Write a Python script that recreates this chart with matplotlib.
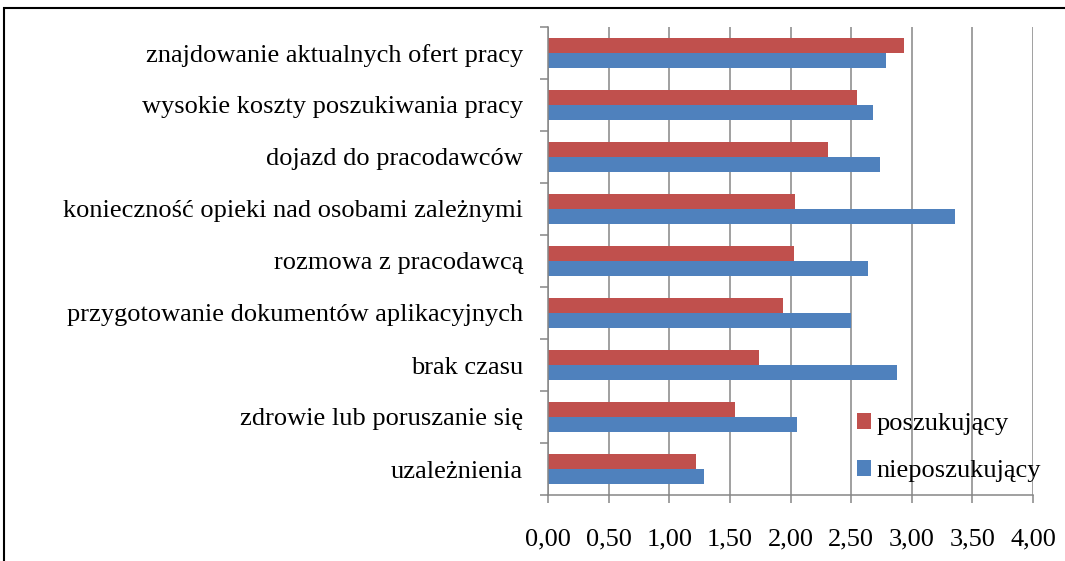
import matplotlib
matplotlib.use("Agg")
import matplotlib.pyplot as plt
from matplotlib.patches import Rectangle
from matplotlib.ticker import FuncFormatter, FixedLocator
import numpy as np

categories = [
    "znajdowanie aktualnych ofert pracy",
    "wysokie koszty poszukiwania pracy",
    "dojazd do pracodawców",
    "konieczność opieki nad osobami zależnymi",
    "rozmowa z pracodawcą",
    "przygotowanie dokumentów aplikacyjnych",
    "brak czasu",
    "zdrowie lub poruszanie się",
    "uzależnienia",
]
poszukujacy = [2.94, 2.55, 2.31, 2.04, 2.03, 1.94, 1.74, 1.54, 1.22]
nieposzukujacy = [2.79, 2.68, 2.74, 3.36, 2.64, 2.50, 2.88, 2.05, 1.29]
series_names = ["poszukujący", "nieposzukujący"]
xticks = [0, 0.5, 1.0, 1.5, 2.0, 2.5, 3.0, 3.5, 4.0]

RED = "#C0504D"
BLUE = "#4F81BD"
GRID = "#868686"
FS = 19

plt.rcParams["font.family"] = ["Liberation Serif", "DejaVu Serif"]

fig = plt.figure(figsize=(10.65, 5.61), dpi=100)
ax = fig.add_axes([548 / 1065, 66 / 561, 485 / 1065, 468 / 561])

n = len(categories)
ypos = np.arange(n)[::-1]  # top category at highest y
h = 0.29
ax.barh(ypos + h / 2, poszukujacy, height=h, color=RED, label=series_names[0], zorder=3)
ax.barh(ypos - h / 2, nieposzukujacy, height=h, color=BLUE, label=series_names[1], zorder=3)

ax.set_xlim(0, 4)
ax.set_ylim(-0.5, n - 0.5)
ax.set_xticks(xticks)
ax.xaxis.set_major_formatter(FuncFormatter(lambda v, p: f"{v:.2f}".replace(".", ",")))
ax.set_yticks(ypos)
ax.set_yticklabels(categories)
ax.yaxis.set_minor_locator(FixedLocator(np.arange(-0.5, n, 1.0)))

ax.tick_params(axis="y", which="major", length=0, pad=18, labelsize=FS)
ax.tick_params(axis="y", which="minor", length=6, width=1.1, color=GRID, direction="out")
ax.tick_params(axis="x", which="major", length=6, width=1.1, color=GRID, direction="out",
               pad=18, labelsize=FS)

ax.grid(axis="x", color=GRID, linewidth=1.1, zorder=0)
ax.set_axisbelow(True)
for s in ["top", "right"]:
    ax.spines[s].set_visible(False)
for s in ["left", "bottom"]:
    ax.spines[s].set_color(GRID)
    ax.spines[s].set_linewidth(1.1)
    ax.spines[s].set_zorder(4)

leg = ax.legend(loc="upper left", bbox_to_anchor=((857 - 548) / 485, (495 - 413) / 468),
                frameon=False, fontsize=FS, borderpad=0, borderaxespad=0,
                handlelength=0.53, handleheight=0.53,
                handletextpad=0.2, labelspacing=0.95)

# outer frame
fig.patches.append(Rectangle((4 / 1065, -0.1), 1.2, (553 / 561) + 0.1,
                             transform=fig.transFigure, fill=False,
                             edgecolor="black", linewidth=1.5))

fig.savefig("out.png", dpi=100)
